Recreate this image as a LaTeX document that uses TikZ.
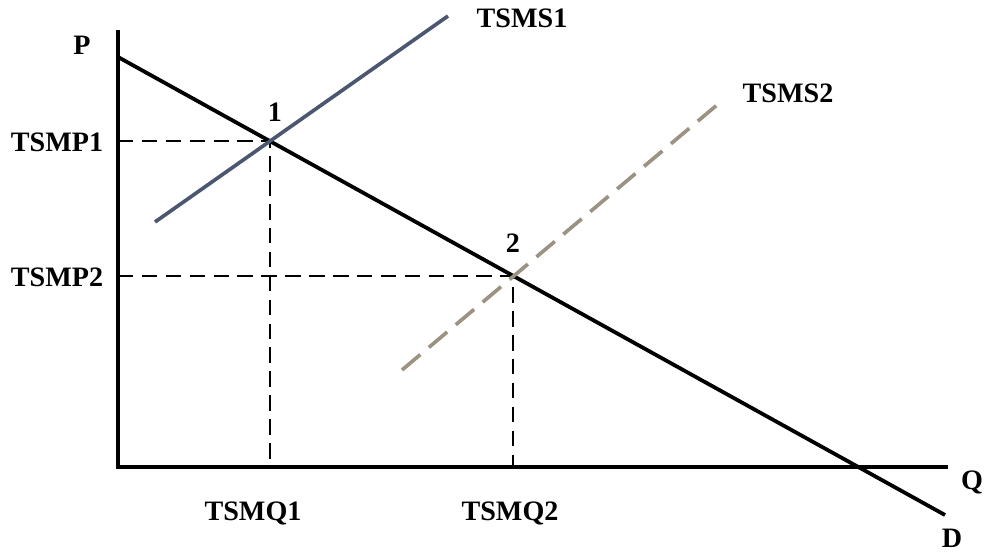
\documentclass[tikz,border=0pt]{standalone}
\usepackage{fontspec}
\setmainfont{Liberation Serif}
\usepackage{tikz}
\usetikzlibrary{calc}
\definecolor{supone}{HTML}{4B5670}
\definecolor{suptwo}{HTML}{9C9282}

\begin{document}
\begin{tikzpicture}[font=\fontsize{20}{24}\selectfont\bfseries,
		axis/.style={line width=3.2pt},
		guide/.style={line width=1.6pt, dash pattern=on 11pt off 6pt}]
			\useasboundingbox (0,0) rectangle (24.65,13.9);
			\coordinate (O) at (2.95,2.225);
			\coordinate (p) at (2.95,13.15);
			\coordinate (q) at (23.7,2.225);
			\coordinate (d0) at (2.95,12.475);
			\coordinate (d1) at (23.625,1.025);
			\coordinate (e1) at (6.75,10.375);
			\coordinate (e2) at (12.825,7.0);
			\coordinate (s1a) at (3.875,8.35);
			\coordinate (s1b) at (11.2,13.5);
			\coordinate (s2a) at (10.05,4.65);
			\coordinate (s2b) at (17.925,11.275);
			\draw[guide] (O |- e1) -- (e1) -- (e1 |- O);
			\draw[guide] (O |- e2) -- (e2) -- (e2 |- O);
			\draw[axis] (p) -- (O) -- (q);
			\draw[line width=2.7pt] (d0) -- (d1);
			\draw[supone, line width=2.6pt] (s1a) -- (s1b);
			\draw[suptwo, line width=2.6pt, dash pattern=on 17pt off 8pt] (s2a) -- (s2b);
			\node (lP) at (2.05,12.775) {P};
			\node (lQ) at (24.3,1.85) {Q};
			\node (lD) at (23.8,0.45) {D};
			\node (lS1) at (13.05,13.45) {TSMS1};
			\node (lS2) at (19.7,11.575) {TSMS2};
			\node (lP1) at (1.425,10.35) {TSMP1};
			\node (lP2) at (1.425,6.975) {TSMP2};
			\node (lQ1) at (6.325,1.075) {TSMQ1};
			\node (lQ2) at (12.75,1.075) {TSMQ2};
			\node (l1) at (6.875,11.1) {1};
			\node (l2) at (12.825,7.825) {2};
		\end{tikzpicture}
\end{document}
